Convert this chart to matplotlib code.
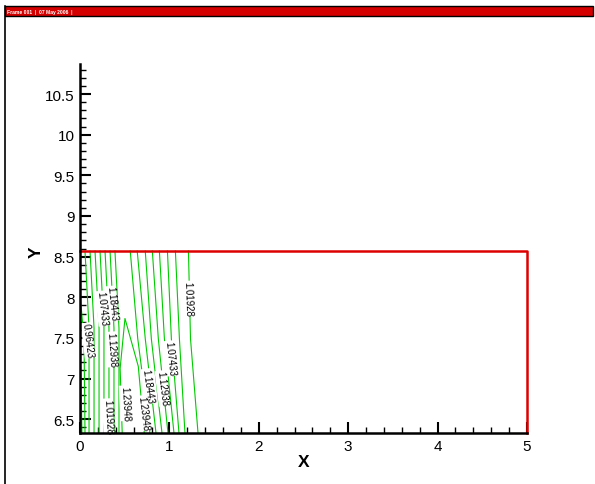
import matplotlib
matplotlib.use("Agg")
import matplotlib.pyplot as plt
from matplotlib.patches import Rectangle
from matplotlib.lines import Line2D
from matplotlib.ticker import MultipleLocator

plt.rcParams['font.family'] = ['Liberation Sans', 'DejaVu Sans']

# ---------------- data ----------------
x_ticks = [0, 1, 2, 3, 4, 5]
y_ticks = [6.5, 7, 7.5, 8, 8.5, 9, 9.5, 10, 10.5]
x_range = [0, 5]
y_range = [6.33, 10.87]
box_top = 8.57          # top of the (red) domain outline

# contour polylines (data coordinates)
left_levels = [1.212, 1.184, 1.157, 1.129, 1.102, 1.074, 1.047, 1.019, 0.992]
left_x = [
    [0.391, 0.436, 0.436],
    [0.336, 0.380, 0.380],
    [0.280, 0.324, 0.324],
    [0.224, 0.268, 0.268],
    [0.168, 0.213, 0.213],
    [0.112, 0.157, 0.157],
    [0.056, 0.101, 0.101],
    [0.000, 0.045, 0.056],
    [0.000, 0.010, 0.022],
]
left_y = [
    [8.57, 7.62, 6.33],
    [8.57, 7.62, 6.33],
    [8.57, 7.62, 6.33],
    [8.57, 7.62, 6.33],
    [8.57, 7.62, 6.33],
    [8.57, 7.62, 6.33],
    [8.57, 7.62, 6.33],
    [8.04, 7.49, 6.33],
    [7.30, 7.00, 6.33],
]

right_levels = [1.212, 1.184, 1.157, 1.129, 1.102, 1.074, 1.047, 1.019]
right_x = [
    [0.562, 0.646, 0.782],
    [0.640, 0.730, 0.850],
    [0.730, 0.798, 0.917],
    [0.809, 0.876, 0.984],
    [0.888, 0.944, 1.051],
    [0.978, 1.022, 1.107],
    [1.067, 1.112, 1.174],
    [1.213, 1.236, 1.320],
]
right_y = [8.57, 7.49, 6.33]

ridge_x = [0.472, 0.449, 0.503, 0.652, 0.719]
ridge_y = [6.33, 7.126, 7.739, 7.150, 6.33]

label_text = ["1.18443", "1.07433", "0.96423", "1.12938", "1.23948", "1.01928",
              "1.01928", "1.07433", "1.12938", "1.18443", "1.23948"]
label_x = [0.358, 0.246, 0.089, 0.358, 0.503, 0.313,
           1.208, 1.007, 0.917, 0.761, 0.705]
label_y = [7.923, 7.862, 7.469, 7.359, 6.696, 6.537,
           7.985, 7.248, 6.880, 6.905, 6.574]
label_rot = [-84, -84, -83, -86, -87, -87, -88, -84, -83, -82, -83]

frame_title = "Frame 001  |  07 May 2006  |"

# ---------------- figure ----------------
W, H = 595, 485
fig = plt.figure(figsize=(W / 100, H / 100), dpi=100)

# outer frame (Tecplot style)
fig.patches.append(Rectangle((5 / W, 1 - 17 / H), 1 - 7 / W, 10 / H,
                             transform=fig.transFigure, facecolor='#d40000',
                             edgecolor='black', linewidth=1.0, zorder=1))
fig.lines.append(Line2D([5 / W, 5 / W], [0, 1 - 7 / H], transform=fig.transFigure,
                        color='black', linewidth=1.2))
fig.text(7 / W, 1 - 12.5 / H, frame_title, color='white', fontsize=3.6,
         fontweight='bold', va='center', ha='left')

ax = fig.add_axes([80 / W, 1 - 434 / H, (527 - 80) / W, (434 - 65) / H])
ax.set_xlim(*x_range)
ax.set_ylim(*y_range)

green = '#00cc00'
for xs, ys in zip(left_x, left_y):
    ax.plot(xs, ys, color=green, lw=0.8, zorder=2)
for xs in right_x:
    ax.plot(xs, right_y, color=green, lw=0.8, zorder=2)
ax.plot(ridge_x, ridge_y, color=green, lw=0.8, zorder=2)

for t, lx, ly, r in zip(label_text, label_x, label_y, label_rot):
    ax.text(lx, ly, t, rotation=r, fontsize=7, ha='center', va='center',
            rotation_mode='anchor', zorder=3,
            bbox=dict(facecolor='white', edgecolor='none', pad=0.2))

# red domain outline
ax.plot([x_range[0], x_range[1], x_range[1]], [box_top, box_top, y_range[0]],
        color='#dd0000', lw=1.8, zorder=4, clip_on=False)

for s in ['top', 'right']:
    ax.spines[s].set_visible(False)
for s in ['left', 'bottom']:
    ax.spines[s].set_linewidth(1.8)
    ax.spines[s].set_zorder(5)

ax.set_xticks(x_ticks)
ax.set_yticks(y_ticks)
ax.set_xticklabels([f"{v:g}" for v in x_ticks])
ax.set_yticklabels([f"{v:g}" for v in y_ticks])
ax.xaxis.set_minor_locator(MultipleLocator(0.2))
ax.yaxis.set_minor_locator(MultipleLocator(0.1))
ax.tick_params(which='major', direction='in', length=8, width=1.5,
               labelsize=11, pad=4)
ax.tick_params(which='minor', direction='in', length=4, width=1.0)
ax.tick_params(top=False, right=False, which='both')

ax.set_xlabel("X", fontsize=12.5, fontweight='bold', labelpad=1)
ax.set_ylabel("Y", fontsize=12.5, fontweight='bold')
ax.yaxis.set_label_coords(-36 / (527 - 80), (434 - 252) / (434 - 65))

fig.savefig("out.png", dpi=100, facecolor='white')
